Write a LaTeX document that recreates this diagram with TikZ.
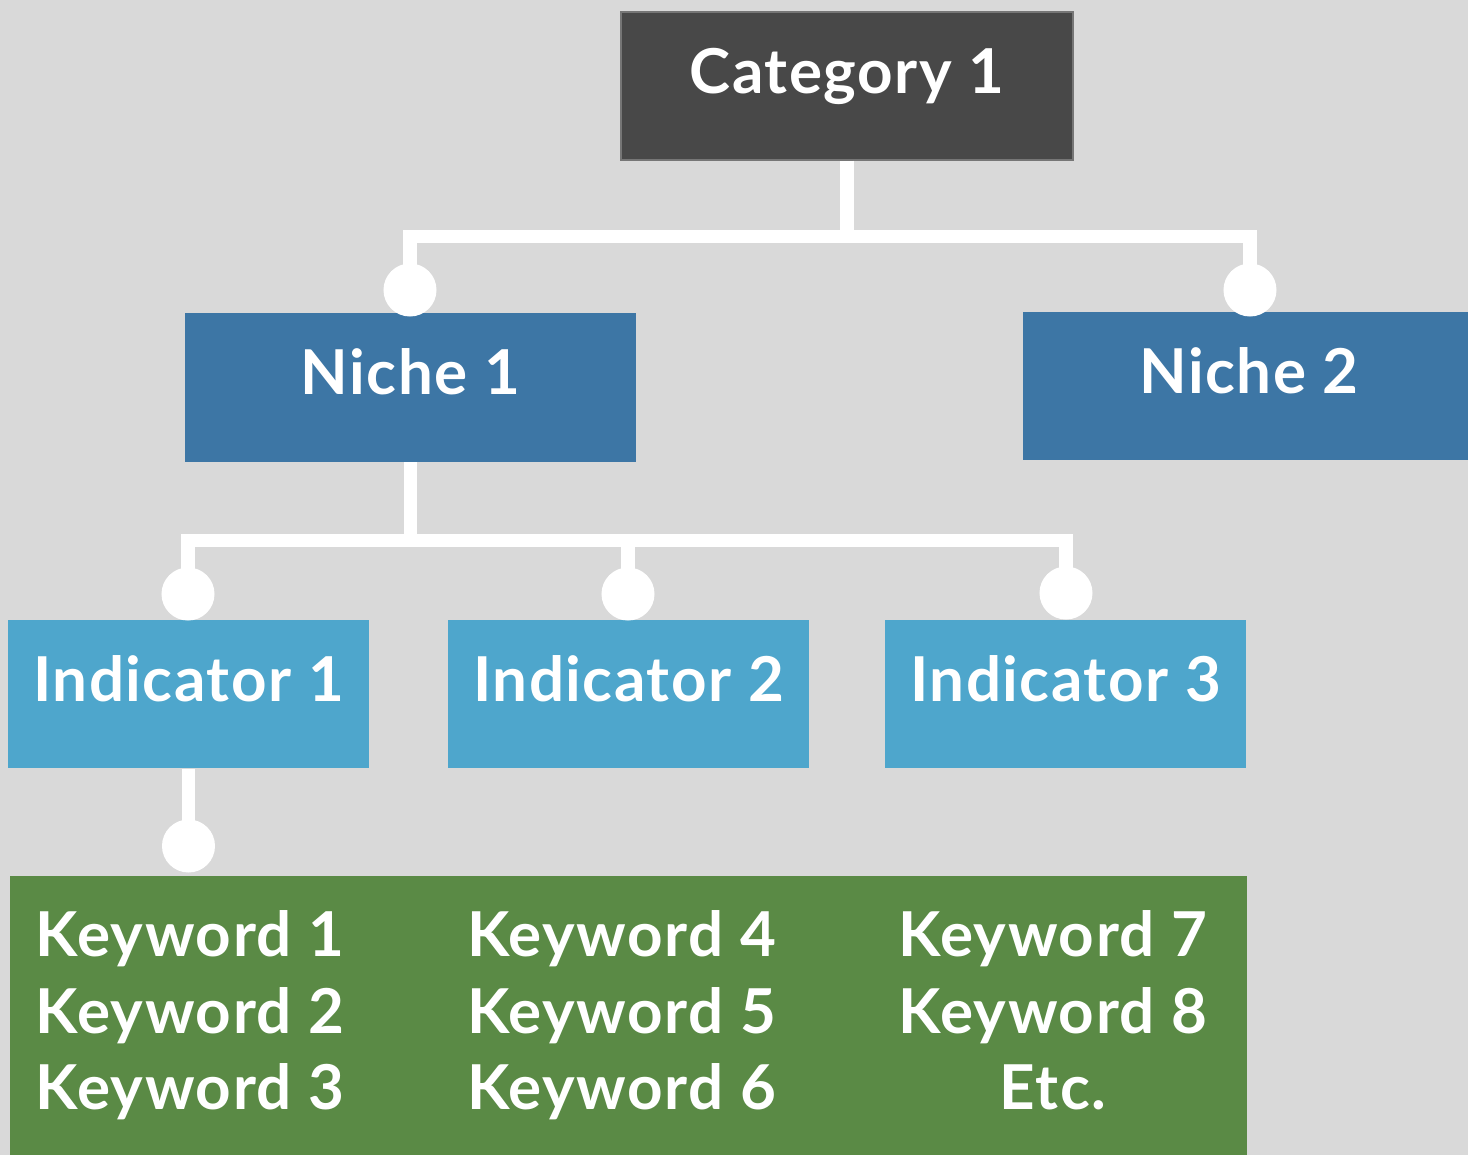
\documentclass[tikz,border=0pt]{standalone}
\usepackage{fontspec}
\setmainfont{Lato}[LetterSpace=2.5]

\definecolor{treebg}{HTML}{D9D9D9}
\definecolor{catgray}{HTML}{484848}
\definecolor{nicheblue}{HTML}{3D76A5}
\definecolor{indblue}{HTML}{4EA6CC}
\definecolor{kwgreen}{HTML}{5A8A45}

\tikzset{
  box/.style={fill=#1, text=white, inner sep=0pt, minimum width=4.52cm,
    text height=0.815cm, text depth=0.665cm},
  indbox/.style={box=indblue, minimum width=3.61cm},
  link/.style={draw=white, line width=0.13cm},
  knob/.style={circle, fill=white, inner sep=0pt, minimum size=0.53cm},
  kw/.style={text=white, anchor=base},
}

\begin{document}
\begin{tikzpicture}[x=0.01cm, y=-0.01cm, font=\bfseries\fontsize{17.6}{20}\selectfont]
    \clip (0,0) rectangle (1468,1155);
    \fill[treebg] (0,0) rectangle (1468,1155);

    % boxes
    \node[box=catgray, draw=catgray!75!white, line width=0.4pt] (cat) at (847,86) {Category 1};
    \node[box=nicheblue, minimum width=4.51cm] (niche1) at (410.5,387.5) {Niche 1};
    \node[box=nicheblue] (niche2) at (1249,386) {Niche 2};
    \node[indbox] (ind1) at (188.5,694) {Indicator 1};
    \node[indbox] (ind2) at (628.5,694) {Indicator 2};
    \node[indbox] (ind3) at (1065.5,694) {Indicator 3};
    \node[fill=kwgreen, inner sep=0pt, minimum width=12.37cm, minimum height=3cm,
      anchor=north west] (kwbox) at (9,875) {};

    % keywords, three per column
    \foreach \n in {1,...,8}{
      \pgfmathtruncatemacro\col{(\n-1)/3}
      \pgfmathtruncatemacro\row{mod(\n-1,3)}
      \node[kw] (kw\n) at ({190+431.5*\col},{957+76.5*\row}) {Keyword \n};
    }
    \node[kw] (kw9) at (1053,1110) {Etc.};

    % connectors
    \coordinate (bus1) at (cat.south |- 0,237);
    \coordinate (bus2) at (niche1.south |- 0,541);
    \node[knob] (k1) at (410,290) {};
    \node[knob] (k2) at (1250,290) {};
    \node[knob] (k3) at (188,594) {};
    \node[knob] (k4) at (628,594) {};
    \node[knob] (k5) at (1066,593) {};
    \node[knob] (k6) at (188.5,846) {};

    \draw[link] (cat.south) -- (bus1);
    \draw[link] (k1.center) |- (bus1) -| (k2.center);
    \draw[link] (niche1.south) -- (bus2);
    \draw[link] (k3.center) |- (bus2) -| (k5.center);
    \draw[link] (bus2 -| k4.center) -- (k4.center);
    \draw[link] (ind1.south) -- (k6.center);
\end{tikzpicture}
\end{document}
